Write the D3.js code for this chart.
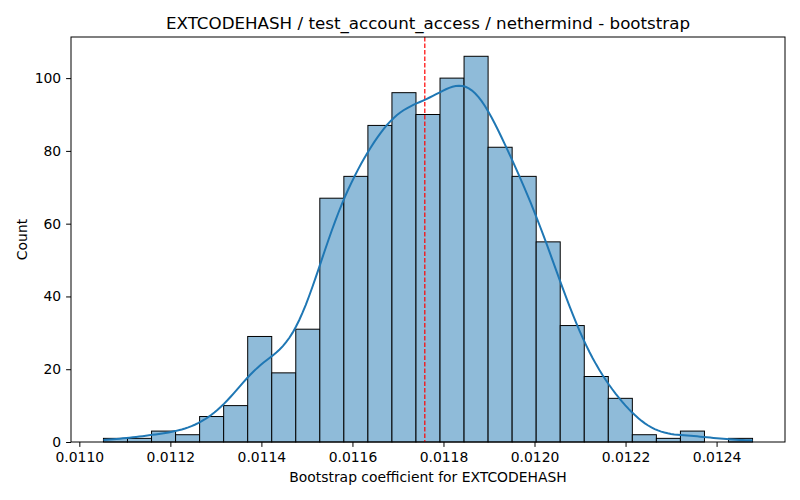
<!DOCTYPE html>
<html>
<head>
<meta charset="utf-8">
<script src="https://cdn.jsdelivr.net/npm/d3@7"></script>
<style>
  body { margin: 0; background: #fff; }
  text { font-family: "DejaVu Sans", sans-serif; fill: #000; }
</style>
</head>
<body>
<div id="chart"></div>
<script>
// histogram bins (counts)
var binStart = 0.011053;     // left edge of first bin
var binEnd = 0.012479;       // right edge of last bin
var counts = [1, 1, 3, 2, 7, 10, 29, 19, 31, 67, 73, 87, 96, 90, 100, 106, 81, 73, 55, 32, 18, 12, 2, 1, 3, 0, 1];
var meanLine = 0.011759;     // red dashed line
var xTicks = [0.0110, 0.0112, 0.0114, 0.0116, 0.0118, 0.0120, 0.0122, 0.0124];
var yTicks = [0, 20, 40, 60, 80, 100];
var title = "EXTCODEHASH / test_account_access / nethermind - bootstrap";
var xLabel = "Bootstrap coefficient for EXTCODEHASH";
var yLabel = "Count";

var width = 800, height = 500;
var margin = { top: 37, right: 15, bottom: 58, left: 71 };
var iw = width - margin.left - margin.right;
var ih = height - margin.top - margin.bottom;

var svg = d3.select("#chart").append("svg")
    .attr("width", width)
    .attr("height", height);

var binW = (binEnd - binStart) / counts.length;
var bins = counts.map(function (c, i) {
  return { x0: binStart + i * binW, x1: binStart + (i + 1) * binW, n: c };
});

// matplotlib-style 5% padding
var pad = (binEnd - binStart) * 0.05;
var x = d3.scaleLinear().domain([binStart - pad, binEnd + pad]).range([0, iw]);
var yMax = d3.max(counts) * 1.05;
var y = d3.scaleLinear().domain([0, yMax]).range([ih, 0]);

var g = svg.append("g").attr("transform", "translate(" + margin.left + "," + margin.top + ")");

// bars
g.selectAll("rect.bar")
  .data(bins.filter(function (d) { return d.n > 0; }))
  .enter().append("rect")
  .attr("class", "bar")
  .attr("x", function (d) { return x(d.x0); })
  .attr("y", function (d) { return y(d.n); })
  .attr("width", function (d) { return x(d.x1) - x(d.x0); })
  .attr("height", function (d) { return y(0) - y(d.n); })
  .attr("fill", "#8fbbd9")
  .attr("stroke", "#000")
  .attr("stroke-width", 1);

// gaussian kde from the binned counts (scott bandwidth),
// each bin spread uniformly -> kernel widened by the bin variance
var total = d3.sum(counts);
var centers = bins.map(function (d) { return (d.x0 + d.x1) / 2; });
var mean = d3.sum(bins, function (d, i) { return d.n * centers[i]; }) / total;
var variance = d3.sum(bins, function (d, i) { return d.n * Math.pow(centers[i] - mean, 2); }) / (total - 1) + binW * binW / 12;
var bw = Math.sqrt(variance) * Math.pow(total, -0.2);
var sig = Math.sqrt(bw * bw + binW * binW / 12);
var grid = d3.range(200).map(function (i) { return binStart + (binEnd - binStart) * i / 199; });
var kde = grid.map(function (v) {
  var s = 0;
  bins.forEach(function (d, i) {
    var z = (v - centers[i]) / sig;
    s += d.n * Math.exp(-0.5 * z * z);
  });
  var dens = s / (total * sig * Math.sqrt(2 * Math.PI));
  return [v, dens * total * binW];
});

// dashed vertical line
g.append("line")
  .attr("x1", x(meanLine)).attr("x2", x(meanLine))
  .attr("y1", 0).attr("y2", ih)
  .attr("stroke", "red")
  .attr("stroke-width", 1.2)
  .attr("stroke-dasharray", "4.5,2");

g.append("path")
  .datum(kde)
  .attr("fill", "none")
  .attr("stroke", "#1f77b4")
  .attr("stroke-width", 2)
  .attr("d", d3.line().x(function (d) { return x(d[0]); }).y(function (d) { return y(d[1]); }));

// axes
var xAxis = d3.axisBottom(x).tickValues(xTicks).tickFormat(d3.format(".4f")).tickSizeOuter(0).tickSize(4.9).tickPadding(4.9);
var yAxis = d3.axisLeft(y).tickValues(yTicks).tickSizeOuter(0).tickSize(4.9).tickPadding(4.9);

var gx = g.append("g").attr("transform", "translate(0," + ih + ")").call(xAxis);
var gy = g.append("g").call(yAxis);
[gx, gy].forEach(function (a) {
  a.select(".domain").remove();
  a.selectAll("text").style("font-size", "13.9px").style("font-family", "DejaVu Sans");
  a.selectAll("line").attr("stroke", "#000");
});

// frame
g.append("rect")
  .attr("width", iw).attr("height", ih)
  .attr("fill", "none").attr("stroke", "#000").attr("stroke-width", 1);

// labels
svg.append("text")
  .attr("x", margin.left + iw / 2).attr("y", 29)
  .attr("text-anchor", "middle")
  .style("font-size", "16.7px")
  .text(title);

svg.append("text")
  .attr("x", margin.left + iw / 2).attr("y", 482)
  .attr("text-anchor", "middle")
  .style("font-size", "13.9px")
  .text(xLabel);

svg.append("text")
  .attr("transform", "translate(27," + (margin.top + ih / 2) + ") rotate(-90)")
  .attr("text-anchor", "middle")
  .style("font-size", "13.9px")
  .text(yLabel);
</script>
</body>
</html>
